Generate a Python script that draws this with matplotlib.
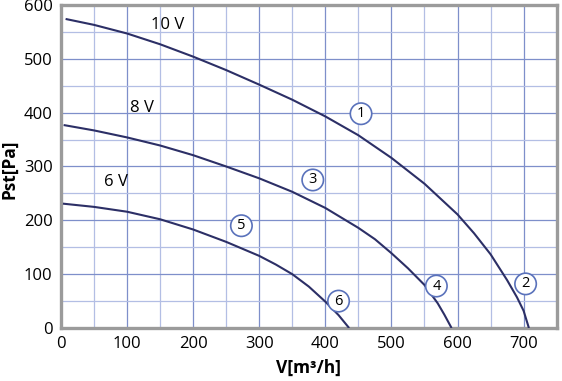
import numpy as np
import matplotlib.pyplot as plt
from matplotlib.ticker import MultipleLocator

plt.rcParams['font.family'] = ['Open Sans', 'DejaVu Sans']

# fan curves
x10 = [7, 50, 100, 150, 200, 250, 300, 350, 400, 450, 500, 550, 600, 625, 650, 675, 690, 700, 708]
y10 = [574, 563, 547, 527, 504, 479, 452, 424, 393, 358, 316, 268, 211, 176, 137, 89, 57, 32, 0]
x8 = [4, 50, 100, 150, 200, 250, 300, 350, 400, 450, 475, 500, 525, 550, 570, 580, 591]
y8 = [377, 367, 354, 339, 321, 300, 278, 253, 223, 186, 165, 139, 111, 80, 46, 25, 0]
x6 = [3, 50, 100, 150, 200, 250, 300, 325, 350, 375, 400, 420, 436]
y6 = [231, 225, 216, 202, 183, 160, 134, 118, 100, 77, 49, 24, 0]

volt_labels = ['10 V', '8 V', '6 V']
volt_pos = [(162, 562), (123, 408), (83, 272)]

marks = ['1', '2', '3', '4', '5', '6']
mark_pos = [(454, 398), (703, 82), (381, 275), (568, 78), (273, 190), (420, 50)]

line_col = '#2c2f66'
frame_col = '#9b9b9b'

fig = plt.figure(figsize=(5.62, 3.81), dpi=100)
ax = fig.add_axes([0.1085, 0.139, 0.882, 0.848])

ax.set_xlim(0, 750)
ax.set_ylim(0, 600)
ax.xaxis.set_major_locator(MultipleLocator(100))
ax.xaxis.set_minor_locator(MultipleLocator(50))
ax.yaxis.set_major_locator(MultipleLocator(100))
ax.yaxis.set_minor_locator(MultipleLocator(50))
ax.grid(which='major', color='#7e8fca', lw=0.9, zorder=0)
ax.grid(which='minor', color='#b3bee4', lw=0.9, zorder=0)
ax.set_axisbelow(True)
ax.tick_params(which='both', length=0, labelsize=12, pad=6)
ax.set_xticks([0, 100, 200, 300, 400, 500, 600, 700])

for s in ax.spines.values():
    s.set_color(frame_col)
    s.set_linewidth(2.4)

for xs, ys in [(x10, y10), (x8, y8), (x6, y6)]:
    ax.plot(xs, ys, color=line_col, lw=1.5, zorder=3, solid_capstyle='butt')

for t, (px, py) in zip(volt_labels, volt_pos):
    ax.text(px, py, t, fontsize=12, ha='center', va='center', zorder=4)

for t, (px, py) in zip(marks, mark_pos):
    ax.text(px, py, t, fontsize=10.5, ha='center', va='center', zorder=5,
            bbox=dict(boxstyle='circle,pad=0.22', fc='white', ec='#5a72bb', lw=1.2))

ax.set_xlabel('V[m³/h]', fontsize=12.5, fontweight='bold', labelpad=5)
ax.set_ylabel('Pst[Pa]', fontsize=12.5, fontweight='bold', va='center')
ax.yaxis.set_label_coords(-0.105, 0.49)

plt.savefig('out.png', dpi=100)
